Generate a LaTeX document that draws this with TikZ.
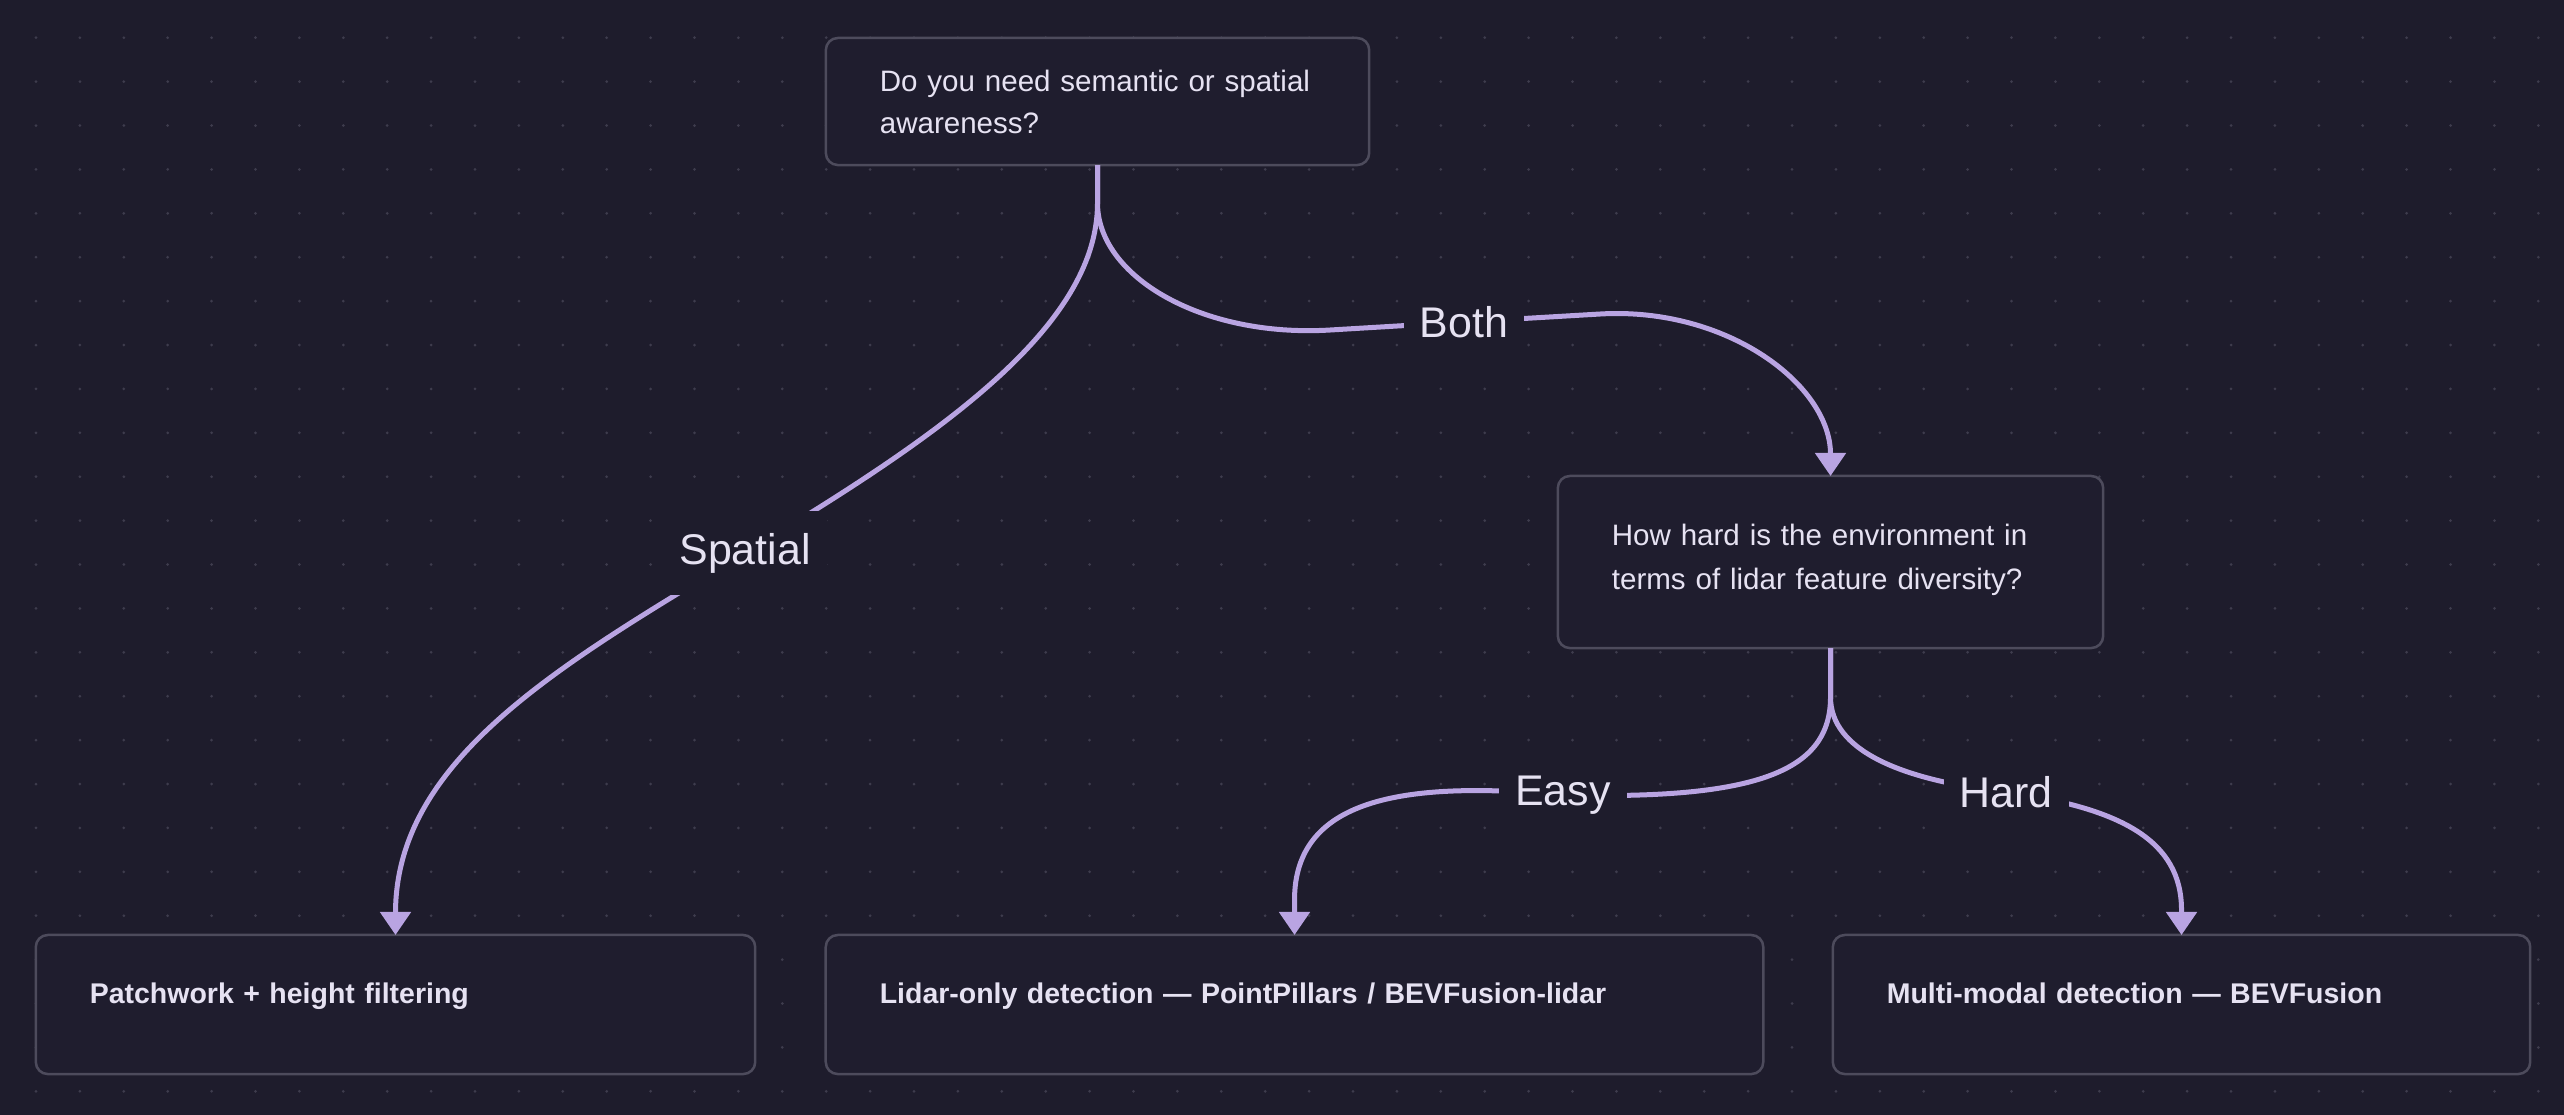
\documentclass[tikz,border=0pt]{standalone}
\usepackage{fontspec}
\setmainfont{Liberation Sans}
\usetikzlibrary{arrows.meta,calc}
\definecolor{bg}{HTML}{1E1C2C}
\definecolor{boxfill}{HTML}{1F1D2E}
\definecolor{boxline}{HTML}{4D4B5C}
\definecolor{edgecol}{HTML}{B9A4E2}
\definecolor{txt}{HTML}{E6E2F2}
\definecolor{dotcol}{HTML}{3E3C4D}
\begin{document}
\begin{tikzpicture}[x=0.01cm,y=-0.01cm,
  box/.style={draw=boxline, line width=0.025cm, fill=boxfill, rounded corners=0.12cm,
    inner xsep=0.54cm, inner ysep=0pt, outer sep=0pt, align=left, text=txt,
    font=\fontsize{8.4}{11.95}\selectfont, anchor=center},
  qbox/.style={box},
  abox/.style={box, font=\fontsize{8.1}{11.95}\selectfont\bfseries,
    text height=6.1pt, text depth=6.9pt},
  edgeline/.style={draw=edgecol, line width=0.05cm, -{Triangle[length=0.23cm,width=0.30cm]}},
  elabel/.style={fill=bg, text=txt, font=\fontsize{12.2}{14}\selectfont,
    inner xsep=0.16cm, inner ysep=0pt, minimum height=0.84cm}
]
\useasboundingbox (0,0) rectangle (2564,1114);
\fill[bg] (-20,-20) rectangle (2584,1134);
\foreach \i in {0,...,57} {
  \foreach \j in {0,...,24} {
    \fill[dotcol] (36+43.9*\i, 37.7+43.9*\j) circle (0.015cm);
  }
}
% boxes
\node[qbox, text width=4.35cm, minimum height=1.27cm] (q1) at (1097.5,101.5)
  {\mbox{Do you need semantic or spatial}\\awareness?};
\node[qbox, text width=4.37cm, minimum height=1.72cm] (q2) at (1830.5,562)
  {\mbox{How hard is the environment in}\\[0.6pt]\mbox{terms of lidar feature diversity?}\vspace{1.2pt}};
\node[abox, text width=6.11cm, minimum height=1.39cm] (a) at (395.5,1004.5)
  {Patchwork + height filtering};
\node[abox, text width=8.29cm, minimum height=1.39cm] (b) at (1294.5,1004.5)
  {\mbox{Lidar-only detection — PointPillars / BEVFusion-lidar}};
\node[abox, text width=5.89cm, minimum height=1.39cm] (c) at (2181.5,1004.5)
  {Multi-modal detection — BEVFusion};
% label points
\coordinate (pSp) at (745,553);
\coordinate (pBo) at (1464,322);
\coordinate (pEa) at (1563,795);
\coordinate (pHa) at (2006,792);
% edges
\draw[edgeline] (q1.south) -- ++(0,38) .. controls (1097.5,330) and (931,441) .. (pSp)
  .. controls (559,665) and (395.5,760) .. (a.north);
\draw[edgeline] (q1.south) -- ++(0,38) .. controls (1097.5,276) and (1201,337.7) .. (1330,330)
  -- (pBo) -- (1600,314) .. controls (1727,306.5) and (1830.5,385) .. (q2.north);
\draw[edgeline] (q2.south) -- ++(0,49) .. controls (1830.5,770) and (1760,800) .. (pEa)
  .. controls (1400,780) and (1294.5,800) .. (1294.5,900) -- (b.north);
\draw[edgeline] (q2.south) -- ++(0,49) .. controls (1830.5,750) and (1900,780) .. (pHa)
  .. controls (2120,808) and (2181.5,840) .. (2181.5,910) -- (c.north);
% edge labels
\node[elabel] (lSp) at (pSp) {Spatial};
\node[elabel] (lBo) at (pBo) {Both};
\node[elabel] (lEa) at (pEa) {Easy};
\node[elabel] (lHa) at (pHa) {Hard};
\end{tikzpicture}
\end{document}
